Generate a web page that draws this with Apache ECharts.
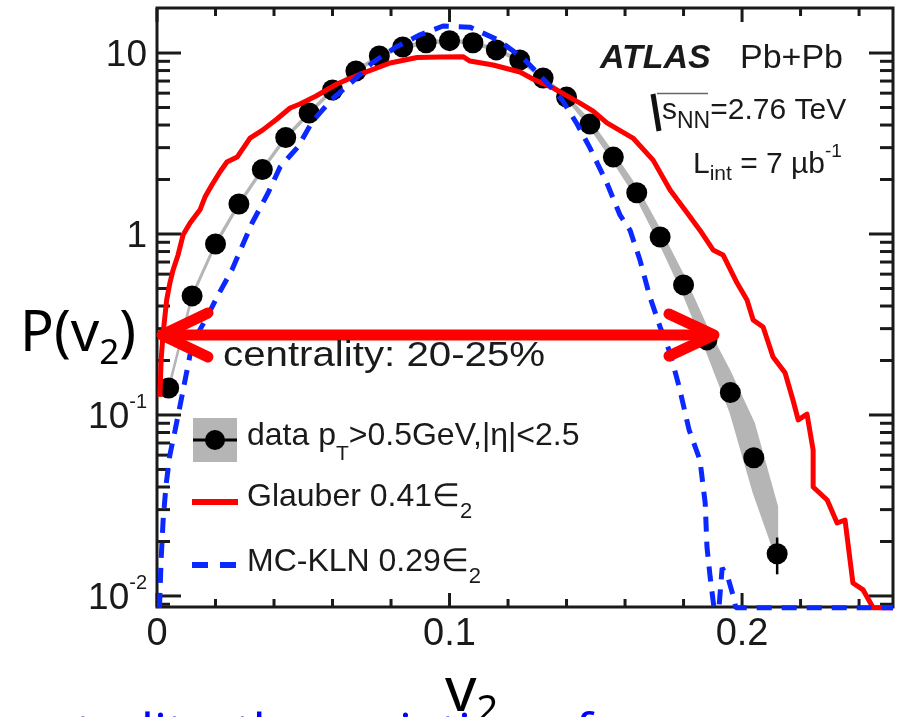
<!DOCTYPE html>
<html><head><meta charset="utf-8">
<script src="https://cdn.jsdelivr.net/npm/echarts@6/dist/echarts.min.js"></script>
<style>html,body{margin:0;padding:0;background:#fff}#c{width:899px;height:717px}</style>
</head><body><div id="c"></div>
<script>
// ---------- data ----------
const xMin = 0, xMax = 0.2516;
const yMin = 0.00869, yMax = 17.73;
const xMajorTicks = [0, 0.1, 0.2];
const xMinorTicks = [0.02, 0.04, 0.06, 0.08, 0.12, 0.14, 0.16, 0.18, 0.22, 0.24];
const yMajorTicks = [0.01, 0.1, 1, 10];
const yMinorTicks = [0.009, 0.02, 0.03, 0.04, 0.05, 0.06, 0.07, 0.08, 0.09,
  0.2, 0.3, 0.4, 0.5, 0.6, 0.7, 0.8, 0.9, 2, 3, 4, 5, 6, 7, 8, 9];

const dataX = [0.004,0.012,0.020,0.028,0.036,0.044,0.052,0.060,0.068,0.076,0.084,0.092,0.100,0.108,
  0.116,0.124,0.132,0.140,0.148,0.156,0.164,0.172,0.180,0.188,0.196,0.204,0.212];
const dataY = [0.141,0.455,0.881,1.465,2.27,3.41,4.66,6.25,7.95,9.63,10.8,11.4,11.7,11.4,
  10.4,9.15,7.28,5.71,4.05,2.66,1.69,0.963,0.523,0.260,0.133,0.058,0.0171];
const sysHi = [0.015,0.015,0.015,0.015,0.015,0.015,0.015,0.015,0.015,0.015,0.015,0.015,0.015,0.015,
  0.015,0.015,0.015,0.015,0.04,0.05,0.065,0.09,0.12,0.165,0.29,0.56,0.82];
const sysLo = [0.015,0.015,0.015,0.015,0.015,0.015,0.015,0.015,0.015,0.015,0.015,0.015,0.015,0.015,
  0.015,0.015,0.015,0.015,0.04,0.05,0.06,0.085,0.11,0.14,0.22,0.36,0.07];
const statErr = [0.02,0.02,0.02,0.02,0.02,0.02,0.02,0.02,0.02,0.02,0.02,0.02,0.02,0.02,
  0.02,0.02,0.02,0.02,0.02,0.02,0.02,0.02,0.02,0.02,0.02,0.08,0.23];

const glauberX = [0.0010,0.0014,0.0021,0.0033,0.0044,0.0055,0.0072,0.0089,0.0113,0.0147,0.0164,0.0188,
  0.0215,0.0239,0.0274,0.0318,0.0362,0.0410,0.0455,0.0489,0.0544,0.0615,0.0704,0.0797,0.0889,0.0968,
  0.1046,0.1070,0.1149,0.1241,0.1285,0.1354,0.1446,0.1491,0.1538,0.1627,0.1696,0.1754,0.1812,0.1856,
  0.1901,0.1935,0.1983,0.2017,0.2038,0.2072,0.2106,0.2147,0.2174,0.2192,0.2222,0.2243,0.2243,0.2291,
  0.2325,0.2352,0.2379,0.2414,0.2448,0.2516];
const glauberY = [0.126,0.201,0.284,0.432,0.536,0.633,0.766,0.987,1.15,1.36,1.60,1.87,
  2.20,2.50,2.66,3.39,3.76,4.32,4.97,5.23,5.79,6.74,7.75,8.81,9.44,9.50,
  9.54,9.03,8.59,7.85,7.19,6.41,5.29,4.78,4.11,3.39,2.56,1.75,1.31,1.05,
  0.816,0.766,0.536,0.432,0.335,0.306,0.209,0.171,0.121,0.094,0.101,0.064,0.040,0.0339,
  0.0253,0.0263,0.0118,0.0108,0.0086,0.0086];

const klnX = [0.00085,0.0014,0.0021,0.0031,0.0044,0.0062,0.0086,0.0113,0.0137,0.0171,0.0209,0.0256,
  0.0325,0.0380,0.0421,0.0482,0.0530,0.0595,0.0667,0.0735,0.0817,0.0899,0.0978,0.1070,0.1166,0.1251,
  0.1337,0.1385,0.1436,0.1480,0.1538,0.1583,0.1617,0.1651,0.1685,0.1720,0.1754,0.1785,0.1819,0.1856,
  0.1874,0.1880,0.1891,0.1904,0.1921,0.1932,0.1952,0.1969,0.1979,0.2516];
const klnY = [0.0086,0.0158,0.0263,0.0411,0.0601,0.0826,0.129,0.215,0.277,0.348,0.460,0.633,
  1.15,1.69,2.35,3.03,4.16,5.50,6.92,8.81,10.8,12.6,14.1,13.9,11.8,9.38,
  6.74,5.50,4.05,2.99,1.91,1.27,1.05,0.718,0.449,0.306,0.220,0.143,0.0826,0.0564,
  0.0326,0.0187,0.0127,0.0086,0.0086,0.0143,0.0126,0.0101,0.0086,0.0086];

// red double arrow annotation (data coordinates)
const arrowX = [0.0017, 0.1904];
const arrowLevel = 0.2767;

// ---------- helpers ----------
const SANS = 'Liberation Sans';
const INK = '#1a1a1a';
const RED = '#ff0000';
const BLUE = '#0a28ff';
const mctx = document.createElement('canvas').getContext('2d');
function fontStr(p) {
  return (p.italic ? 'italic ' : '') + (p.bold ? 'bold ' : '') + p.size + 'px "' + (p.family || SANS) + '"';
}
function textRun(x, base, parts, opts) {
  opts = opts || {};
  const sx = opts.scaleX || 1;
  const els = [];
  let cx = x;
  parts.forEach(function (p) {
    const fam = p.family || opts.family || SANS;
    const k = fam === 'Noto Sans' ? 0.39 : 0.35;
    mctx.font = fontStr(Object.assign({family: fam}, p));
    const w = mctx.measureText(p.t).width * sx;
    els.push({
      type: 'text', x: cx, y: base + (p.dy || 0) - k * p.size, scaleX: sx, z: 100, silent: true,
      style: {
        text: p.t, fontSize: p.size, fontFamily: fam,
        fontWeight: p.bold ? 'bold' : 'normal', fontStyle: p.italic ? 'italic' : 'normal',
        fill: p.fill || opts.fill || INK, align: 'left', verticalAlign: 'middle'
      }
    });
    cx += w + (p.gap || 0);
  });
  return els;
}

function tickSeries(ticks, axis, len) {
  return {
    type: 'custom', silent: true, z: 3, clip: false,
    data: ticks.map(function (v) { return axis === 'x' ? [v, 1] : [0.1, v]; }),
    renderItem: function (params, api) {
      const cs = params.coordSys;
      const p = api.coord([api.value(0), api.value(1)]);
      const st = function () { return {stroke: INK, lineWidth: 3}; };
      if (axis === 'x') {
        const b = cs.y + cs.height, t = cs.y;
        return {type: 'group', children: [
          {type: 'line', shape: {x1: p[0], y1: b, x2: p[0], y2: b - len}, style: st()},
          {type: 'line', shape: {x1: p[0], y1: t, x2: p[0], y2: t + len}, style: st()}
        ]};
      }
      const l = cs.x, r = cs.x + cs.width;
      return {type: 'group', children: [
        {type: 'line', shape: {x1: l, y1: p[1], x2: l + len, y2: p[1]}, style: st()},
        {type: 'line', shape: {x1: r, y1: p[1], x2: r - len, y2: p[1]}, style: st()}
      ]};
    }
  };
}

// ---------- annotations / legend (graphic) ----------
const g = [];
// legend: data
g.push({type: 'rect', shape: {x: 193, y: 418, width: 44, height: 44}, style: {fill: '#b5b5b5'}, z: 100});
g.push({type: 'line', shape: {x1: 193, y1: 440, x2: 237, y2: 440}, style: {stroke: '#000', lineWidth: 3}, z: 101});
g.push({type: 'circle', shape: {cx: 215, cy: 440, r: 10}, style: {fill: '#000'}, z: 102});
g.push.apply(g, textRun(247, 447, [
  {t: 'data p', size: 32}, {t: 'T', size: 21, dy: 15}, {t: '>0.5GeV,|η|<2.5', size: 32}
]));
// legend: Glauber
g.push({type: 'line', shape: {x1: 192, y1: 502, x2: 238, y2: 502}, style: {stroke: RED, lineWidth: 6}, z: 100});
g.push.apply(g, textRun(247, 508, [{t: 'Glauber 0.41∈', size: 32}, {t: '2', size: 22, dy: 12}]));
// legend: MC-KLN
g.push({type: 'line', shape: {x1: 192, y1: 565, x2: 238, y2: 565}, style: {stroke: BLUE, lineWidth: 6, lineDash: [16, 12]}, z: 100});
g.push.apply(g, textRun(247, 573, [{t: 'MC-KLN 0.29∈', size: 32}, {t: '2', size: 22, dy: 12}]));
// centrality
g.push.apply(g, textRun(223, 369, [{t: 'centrality: 20-25%', size: 35}], {scaleX: 1.15}));
// ATLAS Pb+Pb
g.push.apply(g, textRun(600, 71, [{t: 'ATLAS', size: 34, bold: true, italic: true}]));
g.push.apply(g, textRun(740, 71, [{t: 'Pb+Pb', size: 34}]));
// sqrt(s_NN) = 2.76 TeV
g.push({type: 'line', shape: {x1: 653, y1: 94, x2: 659, y2: 131}, style: {stroke: '#111', lineWidth: 5}, z: 100});
g.push({type: 'line', shape: {x1: 657, y1: 93.5, x2: 708, y2: 93.5}, style: {stroke: '#666', lineWidth: 1.5}, z: 100});
g.push.apply(g, textRun(662, 121, [
  {t: 's', size: 30}, {t: 'NN', size: 23, dy: 9}, {t: '=2.76 TeV', size: 30}
]));
// L_int = 7 µb^-1
g.push.apply(g, textRun(693, 175, [
  {t: 'L', size: 30}, {t: 'int', size: 21, dy: 7}, {t: ' = 7 µb', size: 30}, {t: '-1', size: 19, dy: -17}
]));
// axis titles (slide overlay)
g.push.apply(g, textRun(20, 357, [
  {t: 'P(v', size: 56, family: 'Noto Sans', fill: '#000'},
  {t: '2', size: 35, dy: 11, family: 'Noto Sans', fill: '#000'},
  {t: ')', size: 56, family: 'Noto Sans', fill: '#000'}
]));
g.push.apply(g, textRun(445, 718, [
  {t: 'v', size: 62, family: 'Noto Sans', fill: '#000'},
  {t: '2', size: 38, dy: 8, family: 'Noto Sans', fill: '#000'}
]));
// cut-off blue slide text at the bottom
(function () {
  mctx.font = '50px "Noto Sans"';
  const pre = mctx.measureText('fixed centra').width;
  g.push.apply(g, textRun(141 - pre, 754, [{t: 'fixed centrality, the variation of v', size: 50, family: 'Noto Sans', fill: '#0000ff'}]));
})();

// ---------- chart ----------
const chart = echarts.init(document.getElementById('c'), null, {renderer: 'canvas'});
const option = {
  animation: false,
  backgroundColor: '#fff',
  grid: {left: 157, top: 8, width: 736, height: 599, show: true, borderColor: INK, borderWidth: 3,
    backgroundColor: 'rgba(0,0,0,0)'},
  xAxis: {
    type: 'value', min: xMin, max: xMax, interval: 0.1,
    axisLine: {show: false}, axisTick: {show: false}, splitLine: {show: false},
    axisLabel: {
      margin: 9, fontSize: 38, fontFamily: SANS, color: INK,
      formatter: function (v) {
        const r = Math.round(v * 10) / 10;
        if (Math.abs(v - r) > 1e-9) return '';
        return r === 0 ? '0' : r.toFixed(1);
      }
    }
  },
  yAxis: {
    type: 'log', logBase: 10, min: yMin, max: yMax,
    axisLine: {show: false}, axisTick: {show: false}, splitLine: {show: false},
    axisLabel: {
      margin: 10, padding: [6, 0, 0, 0],
      formatter: function (v) {
        const l = Math.log10(v), e = Math.round(l);
        if (Math.abs(l - e) > 1e-6) return '';
        if (e === 1) return '{b|10}';
        if (e === 0) return '{b|1}';
        return '{b|10}{s|' + e + '}';
      },
      rich: {
        b: {fontSize: 37, fontFamily: SANS, color: INK, lineHeight: 50},
        s: {fontSize: 20, fontFamily: SANS, color: INK, lineHeight: 36, verticalAlign: 'top'}
      }
    }
  },
  series: [
    tickSeries(xMajorTicks, 'x', 14),
    tickSeries(xMinorTicks, 'x', 8),
    tickSeries(yMajorTicks, 'y', 24),
    tickSeries(yMinorTicks, 'y', 13),
    { // systematic band
      type: 'custom', z: 2, silent: true, clip: false, data: [[0.1, 1]],
      renderItem: function (params, api) {
        const up = [], lo = [];
        for (let i = 0; i < dataX.length; i++) {
          up.push(api.coord([dataX[i], dataY[i] * (1 + sysHi[i])]));
          lo.push(api.coord([dataX[i], dataY[i] * (1 - sysLo[i])]));
        }
        return {type: 'polygon', shape: {points: up.concat(lo.reverse())},
          style: {fill: '#b5b5b5', stroke: '#b5b5b5', lineWidth: 2, lineJoin: 'round'}};
      }
    },
    { // statistical error bars
      type: 'custom', z: 3, silent: true,
      data: dataX.map(function (x, i) { return [x, dataY[i], statErr[i]]; }),
      renderItem: function (params, api) {
        const x = api.value(0), y = api.value(1), e = api.value(2);
        const a = api.coord([x, y * (1 + e)]), b = api.coord([x, y * (1 - e)]);
        return {type: 'line', shape: {x1: a[0], y1: a[1], x2: b[0], y2: b[1]}, style: {stroke: '#000', lineWidth: 2.5}};
      }
    },
    {
      name: 'data', type: 'scatter', z: 4, silent: true, symbol: 'circle', symbolSize: 21,
      itemStyle: {color: '#000', opacity: 1},
      data: dataX.map(function (x, i) { return [x, dataY[i]]; })
    },
    {
      name: 'Glauber', type: 'line', z: 5, silent: true, symbol: 'none', clip: false,
      lineStyle: {color: RED, width: 5, join: 'round'},
      data: glauberX.map(function (x, i) { return [x, glauberY[i]]; })
    },
    {
      name: 'MC-KLN', type: 'line', z: 6, silent: true, symbol: 'none', clip: false,
      lineStyle: {color: BLUE, width: 5, type: [15, 10], cap: 'butt'},
      data: klnX.map(function (x, i) { return [x, klnY[i]]; })
    },
    { // red double arrow
      type: 'custom', z: 20, silent: true, clip: false, data: [[arrowX[0], arrowLevel]],
      renderItem: function (params, api) {
        const a = api.coord([arrowX[0], arrowLevel]), b = api.coord([arrowX[1], arrowLevel]);
        const st = function () { return {stroke: RED, lineWidth: 11, lineCap: 'round', lineJoin: 'round', fill: null}; };
        return {type: 'group', children: [
          {type: 'line', shape: {x1: a[0] + 3, y1: a[1], x2: b[0] - 3, y2: b[1]}, style: st()},
          {type: 'polyline', shape: {points: [[a[0] + 46, a[1] - 22], [a[0], a[1]], [a[0] + 46, a[1] + 22]]}, style: st()},
          {type: 'polyline', shape: {points: [[b[0] - 45, b[1] - 21], [b[0], b[1]], [b[0] - 45, b[1] + 21]]}, style: st()}
        ]};
      }
    }
  ],
  graphic: {elements: g}
};
chart.setOption(option);
</script></body></html>
